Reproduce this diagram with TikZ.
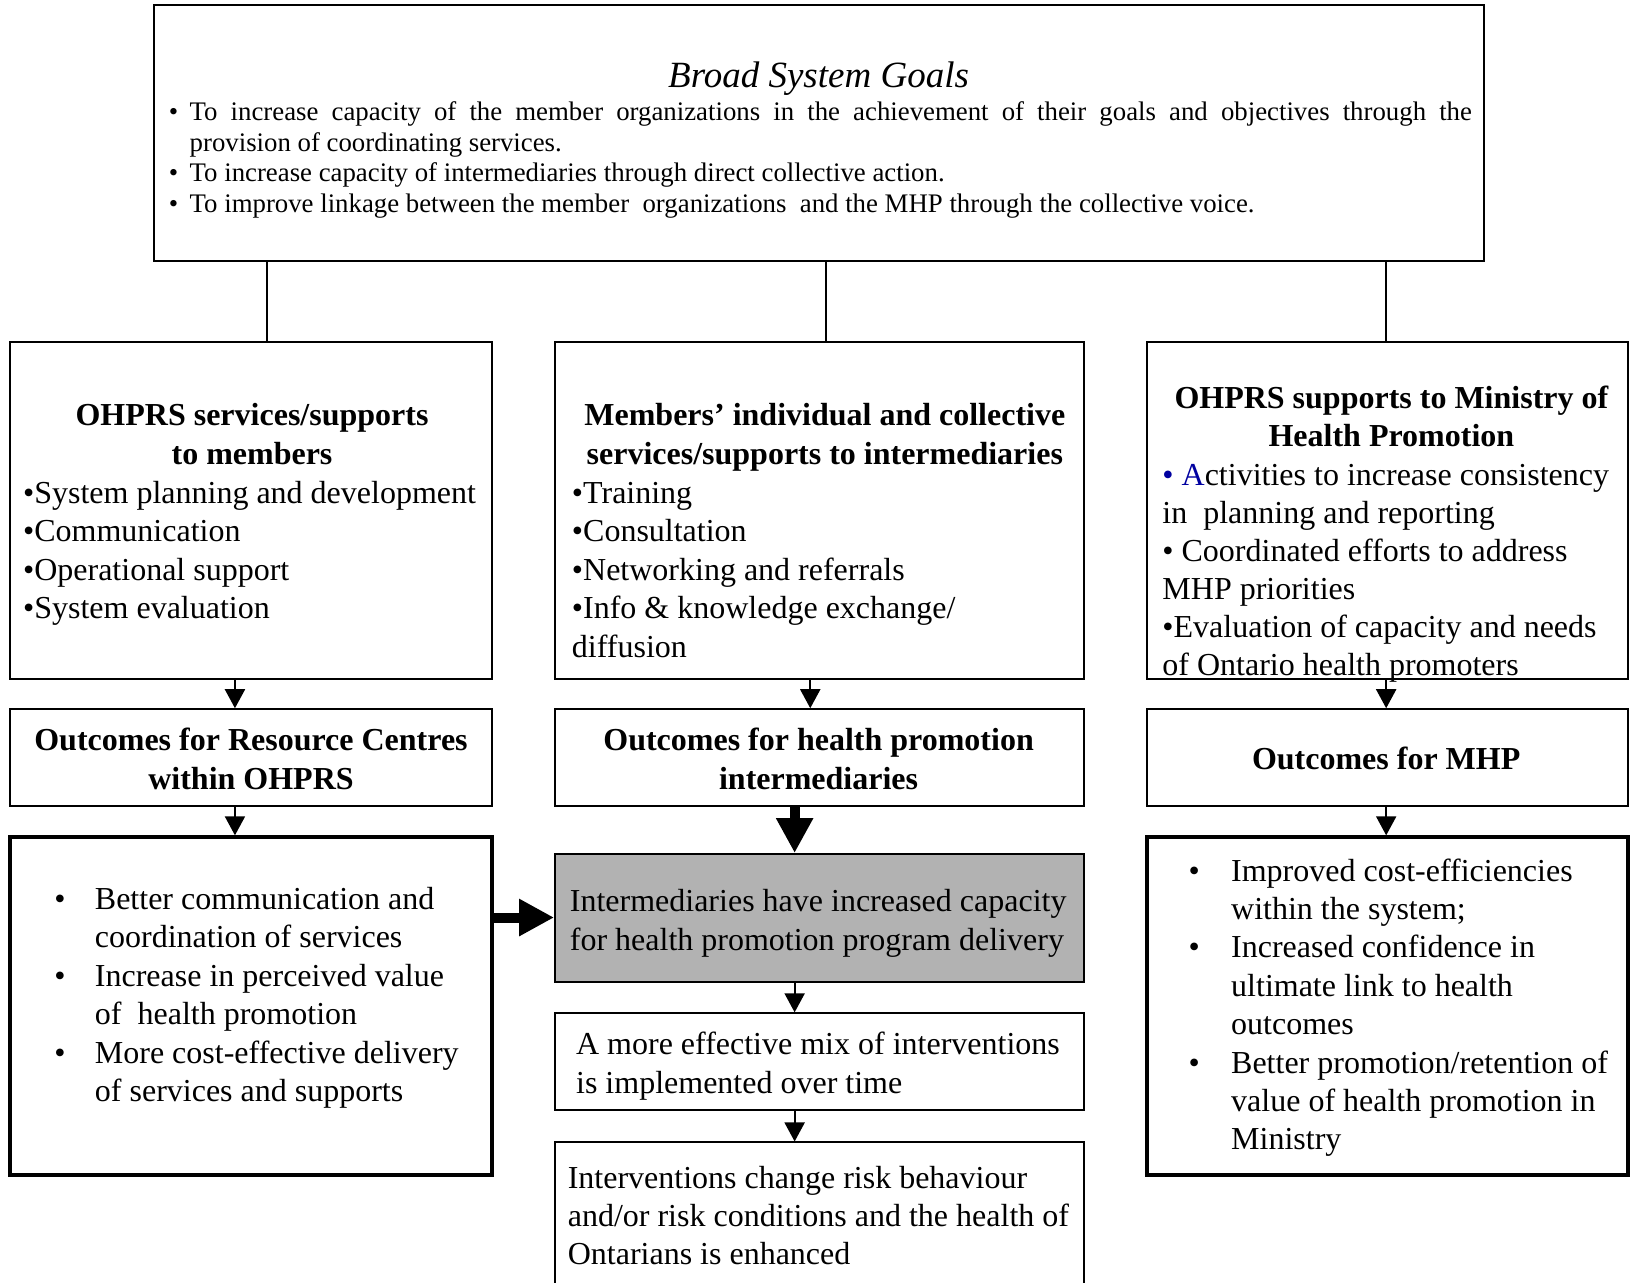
\documentclass[tikz,border=0pt]{standalone}
\usepackage{fontspec}
\setmainfont{Liberation Serif}
\usetikzlibrary{arrows.meta,fit}
\definecolor{boxgray}{RGB}{178,178,178}
\definecolor{bulblue}{RGB}{0,0,160}
\begin{document}
\begin{tikzpicture}[x=1.0415pt,y=-1.0415pt,
 box/.style={draw,line width=2pt,inner sep=0pt},
 heavybox/.style={draw,line width=4pt,inner sep=0pt},
 link/.style={line width=2pt},
 arr/.style={line width=2pt,-{Triangle[length=19pt,width=20pt]}},
 bigarr/.style={line width=10pt,-{Triangle[length=35pt,width=35pt]}},
 ttl/.style={inner sep=0pt,font=\fontsize{32}{38.5}\selectfont\bfseries,align=center,anchor=base},
 lst/.style={inner sep=0pt,font=\fontsize{32}{38.5}\selectfont,align=left,anchor=base west},
]
\fill[white] (0,0) rectangle (1568,1231);
\useasboundingbox (0,0) rectangle (1568,1231);

% top box
\node[box, fit={(148,5)(1425,251)}] (goals) {};
\node[inner sep=0pt, anchor=base, font=\fontsize{37}{44}\selectfont\itshape] (gt) at (786,84) {Broad System Goals};
\node[inner sep=0pt, anchor=base west, text width=1303pt, align=justify, font=\fontsize{26.8}{30.5}\selectfont] (gl) at (162,116) {%
\hangindent=20.8pt\hangafter=1\makebox[20.8pt][l]{•}To increase capacity of the member organizations in the achievement of their goals and objectives through the\linebreak provision of coordinating services.\par
\hangindent=20.8pt\hangafter=1\makebox[20.8pt][l]{•}To increase capacity of intermediaries through direct collective action.\par
\hangindent=20.8pt\hangafter=1\makebox[20.8pt][l]{•}To improve linkage between the member~ organizations~ and the MHP through the collective voice.};

% row 1 (multi-line nodes are placed by the baseline of their last line)
\node[box, fit={(10,328)(472,652)}] (L1) {};
\node[ttl] (L1t) at (242,446) {OHPRS services/supports\\to members};
\node[lst] (L1i) at (22,593.9) {•System planning and development\\•Communication\\•Operational support\\•System evaluation};

\node[box, fit={(533,328)(1041,652)}] (M1) {};
\node[ttl] (M1t) at (792,446) {Members’ individual and collective\\services/supports to intermediaries};
\node[lst] (M1i) at (549,630.9) {•Training\\•Consultation\\•Networking and referrals\\•Info \& knowledge exchange/\\diffusion};

\node[box, fit={(1101,328)(1563,652)}] (R1) {};
\node[ttl] (R1t) at (1336,429) {OHPRS supports to Ministry of\\Health Promotion};
\node[lst, font=\fontsize{32}{38.1}\selectfont] (R1i) at (1116,648.9) {\textcolor{bulblue}{• A}ctivities to increase consistency\\in~ planning and reporting\\• Coordinated efforts to address\\MHP priorities\\•Evaluation of capacity and needs\\of Ontario health promoters};

% row 2
\node[box, fit={(10,681)(472,774)}] (L2) {};
\node[ttl] (L2t) at (241,758) {Outcomes for Resource Centres\\within OHPRS};
\node[box, fit={(533,681)(1041,774)}] (M2) {};
\node[ttl] (M2t) at (786,758) {Outcomes for health promotion\\intermediaries};
\node[box, fit={(1101,681)(1563,774)}] (R2) {};
\node[ttl] (R2t) at (1331,739) {Outcomes for MHP};

% row 3
\node[heavybox, fit={(10,804)(472,1128)}] (L3) {};
\node[lst] (L3i) at (52,1057.8) {\makebox[40.6pt][l]{•}Better communication and\\\hspace*{40.6pt}coordination of services\\\makebox[40.6pt][l]{•}Increase in perceived value\\\hspace*{40.6pt}of~ health promotion\\\makebox[40.6pt][l]{•}More cost-effective delivery\\\hspace*{40.6pt}of services and supports};

\node[box, fill=boxgray, fit={(533,820)(1041,943)}] (M3) {};
\node[lst, font=\fontsize{32}{39.3}\selectfont] (M3i) at (547,912.5) {Intermediaries have increased capacity\\for health promotion program delivery};

\node[box, fit={(533,973)(1041,1066)}] (M4) {};
\node[lst, font=\fontsize{32}{39.3}\selectfont] (M4i) at (553,1050) {A more effective mix of interventions\\is implemented over time};

\node[box, fit={(533,1097)(1041,1250)}] (M5) {};
\node[lst, font=\fontsize{32}{38}\selectfont] (M5i) at (545,1214) {Interventions change risk behaviour\\and/or risk conditions and the health of\\Ontarians is enhanced};

\node[heavybox, fit={(1101,804)(1563,1128)}] (R3) {};
\node[lst, font=\fontsize{32}{38.4}\selectfont] (R3i) at (1141,1104.1) {\makebox[42.7pt][l]{•}Improved cost-efficiencies\\\hspace*{42.7pt}within the system;\\\makebox[42.7pt][l]{•}Increased confidence in\\\hspace*{42.7pt}ultimate link to health\\\hspace*{42.7pt}outcomes\\\makebox[42.7pt][l]{•}Better promotion/retention of\\\hspace*{42.7pt}value of health promotion in\\\hspace*{42.7pt}Ministry};

% connectors
\coordinate (xa) at (256,0);
\coordinate (xb) at (793,0);
\coordinate (xc) at (1331,0);
\coordinate (xl) at (225.6,0);
\coordinate (xm) at (778,0);
\coordinate (xm2) at (763,0);
\coordinate (yh) at (0,881);
\draw[link] (goals.south -| xa) -- (L1.north -| xa);
\draw[link] (goals.south -| xb) -- (M1.north -| xb);
\draw[link] (goals.south -| xc) -- (R1.north -| xc);
\draw[arr] (L1.south -| xl) -- (L2.north -| xl);
\draw[arr] (M1.south -| xm) -- (M2.north -| xm);
\draw[arr] (R1.south -| xc) -- (R2.north -| xc);
\draw[arr] (L2.south -| xl) -- (L3.north -| xl);
\draw[bigarr] (M2.south -| xm2) -- (M3.north -| xm2);
\draw[arr] (R2.south -| xc) -- (R3.north -| xc);
\draw[arr] (M3.south -| xm2) -- (M4.north -| xm2);
\draw[arr] (M4.south -| xm2) -- (M5.north -| xm2);
\draw[bigarr] (L3.east |- yh) -- (M3.west |- yh);
\end{tikzpicture}
\end{document}
